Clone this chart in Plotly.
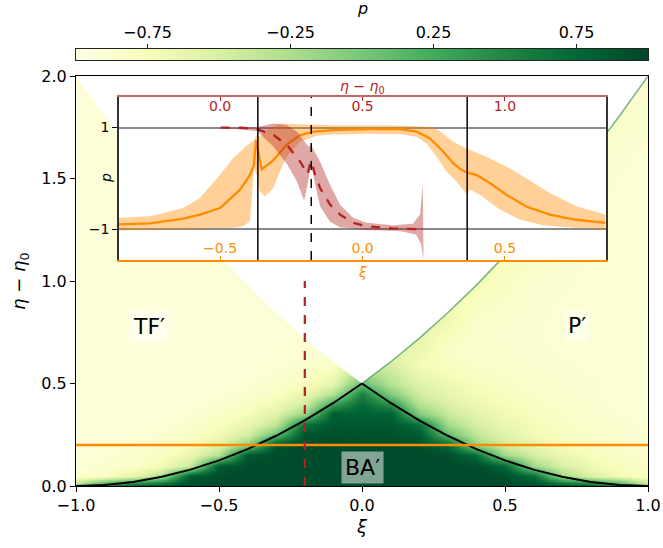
import plotly.graph_objects as go

# ---------------- data ----------------
YLGN = ['#ffffe5', '#f7fcb9', '#d9f0a3', '#addd8e', '#78c679',
        '#41ab5d', '#238443', '#006837', '#004529']

grid_xi = [-1.0, -0.9, -0.8, -0.7, -0.6, -0.5, -0.4, -0.3, -0.2, -0.1, 0.0,
           0.1, 0.2, 0.3, 0.4, 0.5, 0.6, 0.7, 0.8, 0.9, 1.0]
grid_eta = [0.0, 0.05, 0.1, 0.15, 0.2, 0.25, 0.3, 0.35, 0.4, 0.45, 0.5,
            0.6, 0.7, 0.8, 1.0, 1.2, 1.4, 1.6, 1.8, 2.0]
p_grid = [
    [-0.2, 0.55, 0.85, 0.93, 0.95, 0.96, 0.96, 0.96, 0.96, 0.96, 0.96, 0.96, 0.96, 0.96, 0.96, 0.96, 0.95, 0.93, 0.85, 0.5, -0.3],
    [-0.88, -0.8, -0.62, -0.25, 0.85, 0.95, 0.96, 0.96, 0.96, 0.96, 0.96, 0.96, 0.96, 0.96, 0.96, 0.93, 0.7, -0.2, -0.55, -0.72, -0.8],
    [-0.9, -0.88, -0.84, -0.72, -0.42, 0.85, 0.95, 0.96, 0.96, 0.96, 0.96, 0.96, 0.96, 0.96, 0.95, 0.75, -0.2, -0.5, -0.68, -0.77, -0.83],
    [-0.91, -0.9, -0.87, -0.8, -0.65, -0.3, 0.88, 0.95, 0.96, 0.96, 0.96, 0.96, 0.96, 0.94, 0.7, -0.2, -0.48, -0.65, -0.75, -0.82, -0.86],
    [-0.92, -0.91, -0.89, -0.85, -0.75, -0.55, -0.1, 0.9, 0.95, 0.96, 0.96, 0.96, 0.93, 0.75, -0.15, -0.45, -0.63, -0.74, -0.81, -0.86, -0.88],
    [-0.93, -0.92, -0.91, -0.88, -0.82, -0.7, -0.45, 0.1, 0.9, 0.93, 0.92, 0.92, 0.85, 0.1, -0.35, -0.56, -0.7, -0.78, -0.84, -0.87, -0.89],
    [-0.93, -0.93, -0.92, -0.9, -0.86, -0.78, -0.62, -0.35, 0.7, 0.88, 0.85, 0.87, 0.7, -0.2, -0.48, -0.63, -0.74, -0.81, -0.85, -0.88, -0.9],
    [-0.94, -0.93, -0.93, -0.92, -0.89, -0.84, -0.74, -0.55, -0.15, 0.82, 0.8, 0.8, -0.05, -0.4, -0.58, -0.7, -0.78, -0.83, -0.87, -0.89, -0.9],
    [-0.94, -0.94, -0.93, -0.93, -0.91, -0.88, -0.82, -0.7, -0.45, 0.3, 0.72, 0.4, -0.3, -0.52, -0.66, -0.75, -0.81, -0.85, -0.88, -0.9, -0.91],
    [-0.94, -0.94, -0.94, -0.93, -0.92, -0.9, -0.87, -0.8, -0.65, -0.3, 0.55, -0.05, -0.45, -0.62, -0.72, -0.79, -0.84, -0.87, -0.89, -0.9, -0.91],
    [-0.94, -0.94, -0.94, -0.94, -0.93, -0.92, -0.9, -0.86, -0.78, -0.6, 0.1, -0.3, -0.55, -0.68, -0.76, -0.81, -0.85, -0.88, -0.89, -0.9, -0.91],
    [-0.94, -0.94, -0.94, -0.94, -0.94, -0.93, -0.92, -0.9, -0.88, -0.85, -0.5, -0.5, -0.72, -0.8, -0.85, -0.87, -0.88, -0.89, -0.9, -0.9, -0.91],
    [-0.94, -0.94, -0.94, -0.94, -0.94, -0.93, -0.92, -0.91, -0.9, -0.9, -0.6, -0.6, -0.62, -0.82, -0.86, -0.88, -0.89, -0.9, -0.9, -0.9, -0.91],
    [-0.94, -0.94, -0.94, -0.94, -0.94, -0.93, -0.93, -0.92, -0.92, -0.92, -0.66, -0.66, -0.66, -0.68, -0.85, -0.88, -0.89, -0.9, -0.9, -0.9, -0.91],
    [-0.94, -0.94, -0.94, -0.93, -0.93, -0.92, -0.92, -0.92, -0.92, -0.92, -0.72, -0.72, -0.72, -0.72, -0.72, -0.8, -0.88, -0.89, -0.9, -0.9, -0.9],
    [-0.93, -0.93, -0.93, -0.93, -0.92, -0.92, -0.92, -0.92, -0.92, -0.92, -0.76, -0.76, -0.76, -0.76, -0.76, -0.76, -0.78, -0.88, -0.89, -0.9, -0.9],
    [-0.93, -0.93, -0.93, -0.92, -0.92, -0.92, -0.92, -0.92, -0.92, -0.92, -0.8, -0.8, -0.8, -0.8, -0.8, -0.8, -0.8, -0.81, -0.88, -0.9, -0.9],
    [-0.93, -0.93, -0.92, -0.92, -0.92, -0.92, -0.92, -0.92, -0.92, -0.92, -0.82, -0.82, -0.82, -0.82, -0.82, -0.82, -0.82, -0.82, -0.83, -0.89, -0.9],
    [-0.93, -0.92, -0.92, -0.92, -0.92, -0.92, -0.92, -0.92, -0.92, -0.92, -0.84, -0.84, -0.84, -0.84, -0.84, -0.84, -0.84, -0.84, -0.84, -0.85, -0.89],
    [-0.92, -0.92, -0.92, -0.92, -0.92, -0.92, -0.92, -0.92, -0.92, -0.92, -0.86, -0.86, -0.86, -0.86, -0.86, -0.86, -0.86, -0.86, -0.86, -0.86, -0.86],
]

# colour-bar scale values and ticks
cbar_values = [-1.0, 1.0]
cbar_ticks = [-0.75, -0.25, 0.25, 0.75]

# edge of the no-data wedge (right half; left half is its mirror image)
wedge_edge_xi = [0.0, 0.1, 0.2, 0.3, 0.4, 0.5, 0.6, 0.7, 0.8, 0.9, 1.0]
wedge_edge_eta = [0.5, 0.605, 0.72, 0.845, 0.98, 1.125, 1.28, 1.445, 1.62, 1.805, 2.0]

# black boundary curves of BA'
curve_left_xi = [-1.0, -0.9, -0.8, -0.7, -0.6, -0.5, -0.4, -0.3, -0.2, -0.1, 0.0]
curve_left_eta = [0.0, 0.005, 0.02, 0.045, 0.08, 0.125, 0.18, 0.245, 0.32, 0.405, 0.5]
curve_right_xi = [0.0, 0.1, 0.2, 0.3, 0.4, 0.5, 0.6, 0.7, 0.8, 0.9, 1.0]
curve_right_eta = [0.5, 0.405, 0.32, 0.245, 0.18, 0.125, 0.08, 0.045, 0.02, 0.005, 0.0]

cut_eta = 0.2          # orange horizontal cut
cut_xi = -0.2          # red vertical cut
cut_xi_eta_range = [0.0, 1.0]
cross_xi = [-0.3675, 0.3675]   # orange cut meets black curves
cross_eta = 0.32               # red cut meets black curve

# inset: p along eta = 0.2 (orange)
orange_xi = [-0.855, -0.746, -0.629, -0.571, -0.50, -0.43, -0.395, -0.381, -0.374, -0.354,
             -0.313, -0.267, -0.22, -0.173, -0.103, 0.014, 0.131, 0.19, 0.236, 0.283, 0.318,
             0.347, 0.366, 0.40, 0.447, 0.505, 0.575, 0.657, 0.75, 0.853]
orange_p = [-0.90, -0.88, -0.79, -0.71, -0.58, -0.22, 0.07, 0.27, 0.75, 0.18,
            0.36, 0.66, 0.85, 0.92, 0.95, 0.97, 0.97, 0.92, 0.79, 0.53, 0.30,
            0.17, 0.12, 0.07, -0.09, -0.32, -0.55, -0.71, -0.81, -0.87]
orange_hi_xi = [-0.855, -0.746, -0.629, -0.571, -0.501, -0.454, -0.407, -0.381, -0.374, -0.36,
                -0.337, -0.29, -0.22, -0.103, 0.014, 0.131, 0.248, 0.283, 0.318, 0.353, 0.366,
                0.435, 0.505, 0.575, 0.657, 0.751, 0.853]
orange_hi_p = [-0.773, -0.74, -0.578, -0.383, 0.071, 0.396, 0.643, 0.753, 0.851, 0.818,
               0.948, 1.078, 1.065, 1.045, 1.045, 1.039, 1.013, 0.883, 0.721, 0.623, 0.591,
               0.429, 0.234, 0.006, -0.286, -0.545, -0.708]
orange_lo_xi = [-0.855, -0.746, -0.629, -0.571, -0.501, -0.454, -0.419, -0.395, -0.381, -0.372,
                -0.36, -0.343, -0.313, -0.29, -0.267, -0.22, -0.161, -0.103, 0.014, 0.131, 0.189,
                0.225, 0.26, 0.295, 0.33, 0.353, 0.366, 0.377, 0.412, 0.482, 0.552, 0.634, 0.739, 0.853]
orange_lo_p = [-1.019, -1.006, -1.0, -0.987, -0.981, -0.968, -0.935, -0.838, 0.201, 0.071,
               -0.253, -0.351, -0.188, 0.136, 0.429, 0.721, 0.838, 0.864, 0.877, 0.87, 0.818,
               0.688, 0.429, 0.136, -0.058, -0.221, -0.318, -0.221, -0.318, -0.61, -0.805, -0.916, -0.968, -1.0]

# inset: p along xi = -0.2 (red), against eta - eta0
red_eta = [0.002, 0.072, 0.13, 0.188, 0.235, 0.281, 0.307, 0.319, 0.334, 0.351,
           0.386, 0.421, 0.467, 0.514, 0.607, 0.712]
red_p = [1.0, 1.0, 0.968, 0.851, 0.656, 0.331, 0.084, 0.344, 0.071, -0.188,
         -0.513, -0.708, -0.87, -0.935, -0.981, -1.0]
red_hi_eta = [0.002, 0.13, 0.188, 0.235, 0.27, 0.293, 0.31, 0.319, 0.328, 0.351,
              0.386, 0.421, 0.467, 0.514, 0.607, 0.677, 0.702, 0.712]
red_hi_p = [1.0, 1.013, 1.078, 1.045, 0.916, 0.753, 0.623, 0.656, 0.558, 0.331,
            -0.123, -0.513, -0.773, -0.87, -0.916, -0.89, -0.708, -0.091]
red_lo_eta = [0.002, 0.13, 0.188, 0.235, 0.27, 0.295, 0.307, 0.319, 0.334, 0.351,
              0.386, 0.421, 0.514, 0.63, 0.688, 0.706, 0.714]
red_lo_p = [0.994, 0.929, 0.623, 0.279, -0.058, -0.435, -0.123, 0.299, -0.123, -0.545,
            -0.851, -0.955, -1.013, -1.032, -1.097, -1.292, -1.584]

ORANGE = '#ff8c00'
RED = '#b22222'
FONT = 'DejaVu Sans'
CSCALE = [[i / 8, c] for i, c in enumerate(YLGN)]

fig = go.Figure()

# ---------------- main panel ----------------
fig.add_trace(go.Heatmap(
    x=grid_xi, y=grid_eta, z=p_grid, zmin=-1, zmax=1, zsmooth='best',
    colorscale=CSCALE, showscale=False, hoverinfo='skip'))

wx = [-v for v in reversed(wedge_edge_xi)] + wedge_edge_xi[1:]
wy = list(reversed(wedge_edge_eta)) + wedge_edge_eta[1:]
fig.add_trace(go.Scatter(x=wx, y=wy, mode='lines', fill='toself', fillcolor='white',
                         line=dict(width=0, color='white'), hoverinfo='skip', showlegend=False))
fig.add_trace(go.Scatter(x=wedge_edge_xi, y=wedge_edge_eta, mode='lines',
                         line=dict(width=1.5, color='rgba(35,132,67,0.6)'),
                         hoverinfo='skip', showlegend=False))

for cx, cy in ((curve_left_xi, curve_left_eta), (curve_right_xi, curve_right_eta)):
    fig.add_trace(go.Scatter(x=cx, y=cy, mode='lines', line=dict(color='black', width=2),
                             showlegend=False, hoverinfo='skip'))

fig.add_trace(go.Scatter(x=[-1, 1], y=[cut_eta, cut_eta], mode='lines',
                         line=dict(color=ORANGE, width=2.5), showlegend=False))
fig.add_trace(go.Scatter(x=[cut_xi, cut_xi], y=cut_xi_eta_range, mode='lines',
                         line=dict(color=RED, width=2.2, dash='dash'), showlegend=False))

# ---------------- inset ----------------
fig.add_trace(go.Scatter(x=orange_hi_xi + orange_lo_xi[::-1], y=orange_hi_p + orange_lo_p[::-1],
                         xaxis='x2', yaxis='y2', mode='lines', fill='toself',
                         fillcolor='rgba(255,140,0,0.4)', line=dict(width=0),
                         hoverinfo='skip', showlegend=False))
fig.add_trace(go.Scatter(x=orange_xi, y=orange_p, xaxis='x2', yaxis='y2', mode='lines',
                         line=dict(color=ORANGE, width=2.3), showlegend=False))
fig.add_trace(go.Scatter(x=red_hi_eta + red_lo_eta[::-1], y=red_hi_p + red_lo_p[::-1],
                         xaxis='x3', yaxis='y2', mode='lines', fill='toself',
                         fillcolor='rgba(178,34,34,0.4)', line=dict(width=0),
                         hoverinfo='skip', showlegend=False))
fig.add_trace(go.Scatter(x=red_eta, y=red_p, xaxis='x3', yaxis='y2', mode='lines',
                         line=dict(color=RED, width=2.3, dash='dash'), showlegend=False))

for xv in cross_xi:
    fig.add_shape(type='line', xref='x2', yref='y2 domain', x0=xv, x1=xv, y0=0, y1=1,
                  line=dict(color='black', width=1.5), layer='above')
fig.add_shape(type='line', xref='x3', yref='y2 domain', x0=cross_eta, x1=cross_eta, y0=0, y1=1,
              line=dict(color='black', width=1.5, dash='dash'), layer='above')

# ---------------- colour bar (own axes, ticks on top) ----------------
fig.add_trace(go.Heatmap(x=cbar_values, y=[0, 1], z=[cbar_values, cbar_values],
                         zmin=-1, zmax=1, zsmooth='best', colorscale=CSCALE,
                         showscale=False, hoverinfo='skip', xaxis='x4', yaxis='y4'))

# layout geometry (paper fractions of the 572 x 446 plotting region)
main_y = [0.0, 0.91928]
inset_x = [0.0752, 0.9266]
inset_y = [0.50673, 0.87220]
cbar_y = [0.95516, 0.97982]

axis_common = dict(showgrid=False, zeroline=False, showline=True, mirror=True,
                   linecolor='black', linewidth=1, ticks='outside', ticklen=5,
                   tickcolor='black', tickformat='.1f',
                   tickfont=dict(size=16, family=FONT, color='black'))

fig.update_layout(
    width=663, height=548,
    margin=dict(l=76, r=15, t=40, b=62, autoexpand=False),
    paper_bgcolor='white', plot_bgcolor='white',
    font=dict(family=FONT, color='black'),
    showlegend=False,
    xaxis=dict(range=[-1, 1], tickvals=[-1, -0.5, 0, 0.5, 1], domain=[0, 1], **axis_common),
    yaxis=dict(range=[0, 2], tickvals=[0, 0.5, 1, 1.5, 2], domain=main_y, **axis_common),
    xaxis2=dict(domain=inset_x, anchor='y2', range=[-0.855, 0.855], tickvals=[-0.5, 0, 0.5],
                tickformat='.1f', ticks='inside', ticklen=4, tickcolor=ORANGE,
                ticklabelposition='inside', tickfont=dict(size=14, family=FONT, color=ORANGE),
                showline=True, linecolor=ORANGE, linewidth=1.5,
                showgrid=False, zeroline=False),
    xaxis3=dict(overlaying='x2', side='top', anchor='y2', range=[-0.355, 1.355],
                tickvals=[0, 0.5, 1], tickformat='.1f', ticks='inside', ticklen=4,
                tickcolor=RED, ticklabelposition='inside',
                tickfont=dict(size=14, family=FONT, color=RED),
                showline=True, linecolor='rgba(178,34,34,0.7)', linewidth=1.5,
                showgrid=False, zeroline=False),
    yaxis2=dict(domain=inset_y, anchor='x2', range=[-1.6, 1.6], tickvals=[-1, 1],
                ticktext=['\u22121', '1'], ticks='outside', ticklen=5, tickcolor='black',
                tickfont=dict(size=14, family=FONT, color='black'),
                showline=True, mirror=True, linecolor='#333', linewidth=1.5,
                showgrid=True, gridcolor='#8a8a8a', gridwidth=1.5, zeroline=False),
    xaxis4=dict(domain=[0, 1], anchor='y4', range=[-1, 1], side='top',
                tickvals=cbar_ticks, tickformat='.2f', ticks='outside', ticklen=4,
                tickcolor='#222', tickfont=dict(size=16, family=FONT, color='black'),
                showline=True, mirror=True, linecolor='#222', linewidth=1,
                showgrid=False, zeroline=False),
    yaxis4=dict(domain=cbar_y, anchor='x4', range=[0, 1], showticklabels=False, ticks='',
                showline=True, mirror=True, linecolor='#222', linewidth=1,
                showgrid=False, zeroline=False),
)


def ann(text, x, y, size, color='black', ref=('paper', 'paper'), angle=0, box=False):
    d = dict(text=text, x=x, y=y, xref=ref[0], yref=ref[1], showarrow=False,
             xanchor='center', yanchor='middle', textangle=angle,
             font=dict(size=size, family=FONT, color=color))
    if box:
        d.update(bgcolor='rgba(255,255,255,0.5)', borderpad=3)
    return d


eta_lbl = '<i>η</i> \u2212 <i>η</i><sub>0</sub>'
fig.update_layout(annotations=[
    ann('<i>ξ</i>', 0.5, -0.0919, 18),
    ann(eta_lbl, -0.098, 0.4596, 18, angle=-90),
    ann('<i>p</i>', 0.5, 1.0717, 16),
    ann(eta_lbl, 0.5, 0.8946, 14, color=RED),
    ann('<i>ξ</i>', 0.5, 0.4798, 14, color=ORANGE),
    ann('<i>p</i>', 0.0524, 0.6906, 14, angle=-90),
    ann('TF\u2032', -0.745, 0.78, 22, ref=('x', 'y'), box=True),
    ann('P\u2032', 0.752, 0.785, 22, ref=('x', 'y'), box=True),
    ann('BA\u2032', 0.0, 0.088, 22, ref=('x', 'y'), box=True),
])

fig.write_html('out.html', config={'displayModeBar': False},
               post_script="document.body.style.margin='0px';")
